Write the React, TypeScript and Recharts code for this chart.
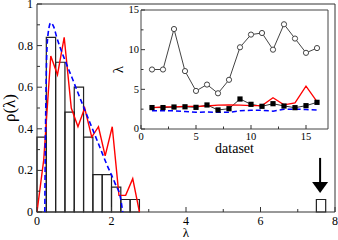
import React from "react";
import {
  ComposedChart,
  LineChart,
  Line,
  XAxis,
  YAxis,
  ReferenceArea,
  ReferenceLine,
  ReferenceDot,
  Label,
} from "recharts";

// main panel: histogram of eigenvalues
const binLeft = [0, 0.25, 0.5, 0.75, 1, 1.25, 1.5, 1.75, 2, 2.25, 2.5, 7.5];
const binHeight = [0.36, 0.84, 0.72, 0.48, 0.6, 0.36, 0.18, 0.18, 0.12, 0.06, 0.06, 0.06];
const binWidth = 0.25;

const redX = [0, 0.18, 0.37, 0.55, 0.73, 0.92, 1.1, 1.28, 1.47, 1.65, 1.83, 2.02, 2.2, 2.38, 2.57, 2.75];
const redY = [0, 0.25, 0.75, 0.66, 0.84, 0.5, 0.41, 0.5, 0.36, 0.41, 0.27, 0.41, 0.08, 0.08, 0.16, 0];

const blueX = [0.21, 0.22, 0.24, 0.26, 0.3, 0.37, 0.45, 0.53, 0.75, 0.93, 1.15, 1.33, 1.51, 1.69, 1.87, 2.09, 2.25, 2.3];
const blueY = [0, 0.25, 0.55, 0.75, 0.86, 0.91, 0.89, 0.84, 0.73, 0.65, 0.55, 0.47, 0.39, 0.31, 0.23, 0.14, 0.06, 0];

const mainXTicks = [0, 1, 2, 3, 4, 5, 6, 7, 8];
const mainXMajor = [0, 2, 4, 6, 8];
const mainYTicks = [0, 0.1, 0.2, 0.3, 0.4, 0.5, 0.6, 0.7, 0.8, 0.9, 1];
const mainYMajor = [0, 0.2, 0.4, 0.6, 0.8, 1];

// inset: largest eigenvalue per dataset
const datasets = [1, 2, 3, 4, 5, 6, 7, 8, 9, 10, 11, 12, 13, 14, 15, 16];
const openVals = [7.5, 7.5, 12.6, 7.3, 4.8, 5.6, 4.5, 6.2, 10.3, 11.9, 12.1, 10.0, 13.2, 11.4, 9.6, 10.2];
const squareVals = [2.7, 2.7, 2.77, 2.8, 2.73, 3.03, 2.4, 2.56, 3.78, 3.11, 2.86, 3.19, 2.9, 2.69, 2.94, 3.36];
const redVals = [2.7, 2.8, 2.8, 2.85, 2.85, 2.9, 3.0, 3.05, 3.0, 2.95, 2.95, 3.95, 3.05, 3.3, 5.4, 3.45];
const blueVals = [2.3, 2.3, 2.3, 2.2, 2.1, 2.15, 2.1, 2.1, 2.3, 2.35, 2.35, 2.25, 2.48, 2.5, 2.45, 2.4];

const insetXTicks = [0, 2.5, 5, 7.5, 10, 12.5, 15];
const insetMajor = [0, 5, 10, 15];
const insetYTicks = [0, 2.5, 5, 7.5, 10, 12.5, 15];

const FONT = "'Liberation Serif', 'DejaVu Serif', serif";

const redData = redX.map((x, i) => ({ x, y: redY[i] }));
const blueData = blueX.map((x, i) => ({ x, y: blueY[i] }));
const insetData = datasets.map((d, i) => ({
  d,
  open: openVals[i],
  sq: squareVals[i],
  red: redVals[i],
  blue: blueVals[i],
}));

function bottomTick(majors: number[], big: number, small: number, size: number, gap: number) {
  return (props: any) => {
    const { x, y, payload } = props;
    const major = majors.includes(payload.value);
    return (
      <g>
        <line x1={x} x2={x} y1={y} y2={y - (major ? big : small)} stroke="#333" strokeWidth={1} />
        {major && (
          <text x={x} y={y + gap} textAnchor="middle" fontSize={size} fontFamily={FONT} fill="#000">
            {payload.value}
          </text>
        )}
      </g>
    );
  };
}

function leftTick(majors: number[], big: number, small: number, size: number, gap: number) {
  return (props: any) => {
    const { x, y, payload } = props;
    const major = majors.includes(payload.value);
    return (
      <g>
        <line x1={x} x2={x + (major ? big : small)} y1={y} y2={y} stroke="#333" strokeWidth={1} />
        {major && (
          <text x={x - gap} y={y + size * 0.33} textAnchor="end" fontSize={size} fontFamily={FONT} fill="#000">
            {payload.value}
          </text>
        )}
      </g>
    );
  };
}

const arrowHead = (props: any) => {
  const { cx, cy } = props;
  return <polygon points={`${cx - 8},${cy - 11} ${cx + 8},${cy - 11} ${cx},${cy}`} fill="#000" />;
};

const squareDot = (props: any) => {
  const { cx, cy, index } = props;
  return <rect key={index} x={cx - 2.6} y={cy - 2.6} width={5.2} height={5.2} fill="#000" />;
};

export default function App() {
  return (
    <div style={{ position: "fixed", left: 0, top: 0, width: 338, height: 240, background: "#fff" }}>
      <ComposedChart width={338} height={240} margin={{ top: 4, right: 3, bottom: 0, left: 0 }}>
        <XAxis
          type="number"
          dataKey="x"
          domain={[0, 8]}
          ticks={mainXTicks}
          interval={0}
          allowDataOverflow
          height={28}
          tickSize={0}
          tickMargin={0}
          tickLine={false}
          axisLine={false}
          tick={bottomTick(mainXMajor, 5, 3, 12, 12.5)}
        >
          <Label value="λ" position="insideBottom" offset={3} fontSize={13} fontFamily={FONT} fill="#000" />
        </XAxis>
        <YAxis
          type="number"
          domain={[0, 1]}
          ticks={mainYTicks}
          interval={0}
          allowDataOverflow
          width={37}
          tickSize={0}
          tickMargin={0}
          tickLine={false}
          axisLine={false}
          tick={leftTick(mainYMajor, 5, 3, 12, 4)}
        >
          <Label
            value="ρ(λ)"
            position="insideLeft"
            angle={-90}
            offset={9}
            textAnchor="middle"
            fontSize={17}
            fontFamily={FONT}
            fill="#000"
          />
        </YAxis>
        {binLeft.map((b, i) => (
          <ReferenceArea
            key={i}
            x1={b}
            x2={b + binWidth}
            y1={0}
            y2={binHeight[i]}
            fill="none"
            fillOpacity={0}
            stroke="#222"
            strokeWidth={1.2}
          />
        ))}
        <ReferenceArea x1={0} x2={8} y1={0} y2={1} fill="none" fillOpacity={0} stroke="#333" strokeWidth={1} />
        <Line
          data={redData}
          dataKey="y"
          type="linear"
          stroke="#ff0000"
          strokeWidth={1.4}
          dot={false}
          isAnimationActive={false}
        />
        <Line
          data={blueData}
          dataKey="y"
          type="monotone"
          stroke="#0000ff"
          strokeWidth={1.6}
          strokeDasharray="5 3"
          dot={false}
          isAnimationActive={false}
        />
        <ReferenceLine
          segment={[
            { x: 7.6, y: 0.26 },
            { x: 7.6, y: 0.14 },
          ]}
          stroke="#000"
          strokeWidth={2}
        />
        <ReferenceDot x={7.6} y={0.091} r={1} shape={arrowHead} />
      </ComposedChart>

      <div style={{ position: "absolute", left: 100, top: 0 }}>
        <LineChart width={238} height={160} data={insetData} margin={{ top: 10, right: 10, bottom: 0, left: 0 }}>
          <XAxis
            type="number"
            dataKey="d"
            domain={[0, 17]}
            ticks={insetXTicks}
            interval={0}
            allowDataOverflow
            height={31}
            tickSize={0}
            tickMargin={0}
            tickLine={false}
            axisLine={false}
            tick={bottomTick(insetMajor, 4, 2.5, 10.5, 11)}
          >
            <Label value="dataset" position="insideBottom" offset={7} fontSize={14} fontFamily={FONT} fill="#000" />
          </XAxis>
          <YAxis
            type="number"
            domain={[0, 15]}
            ticks={insetYTicks}
            interval={0}
            allowDataOverflow
            width={41}
            tickSize={0}
            tickMargin={0}
            tickLine={false}
            axisLine={false}
            tick={leftTick(insetMajor, 4, 2.5, 10.5, 2)}
          >
            <Label
              value="λ"
              position="insideLeft"
              angle={-90}
              offset={18}
              textAnchor="middle"
              fontSize={15}
              fontFamily={FONT}
              fill="#000"
            />
          </YAxis>
          <ReferenceArea x1={0} x2={17} y1={0} y2={15} fill="#fff" fillOpacity={1} stroke="#444" strokeWidth={1} />
          <Line
            dataKey="open"
            type="linear"
            stroke="#444"
            strokeWidth={1}
            dot={{ r: 2.6, fill: "#fff", stroke: "#444", strokeWidth: 1 }}
            isAnimationActive={false}
          />
          <Line
            dataKey="sq"
            type="linear"
            stroke="#333"
            strokeWidth={1}
            dot={squareDot}
            isAnimationActive={false}
          />
          <Line dataKey="red" type="linear" stroke="#ff0000" strokeWidth={1.3} dot={false} isAnimationActive={false} />
          <Line
            dataKey="blue"
            type="linear"
            stroke="#0000ff"
            strokeWidth={1.5}
            strokeDasharray="5 3"
            dot={false}
            isAnimationActive={false}
          />
        </LineChart>
      </div>
    </div>
  );
}
